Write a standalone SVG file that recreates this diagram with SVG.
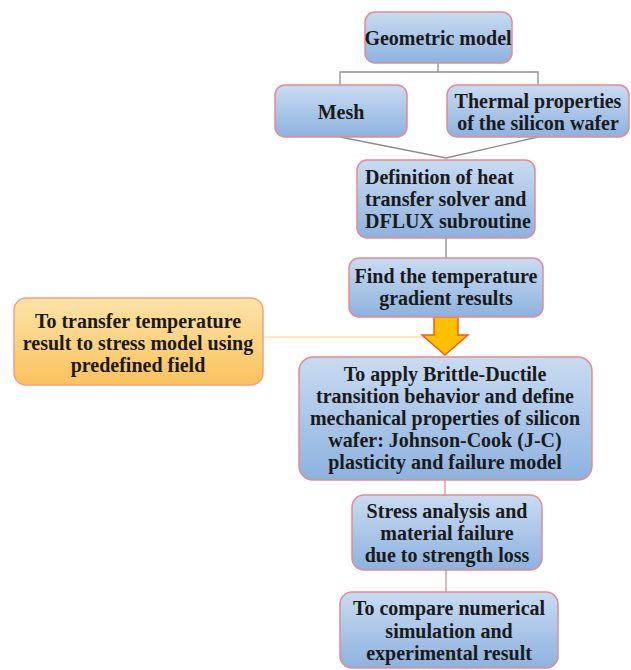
<svg xmlns="http://www.w3.org/2000/svg" width="631" height="670" viewBox="0 0 631 670">
<defs>
<linearGradient id="blue" x1="0" y1="0" x2="0" y2="1">
<stop offset="0" stop-color="#c9dbf1"/>
<stop offset="1" stop-color="#8db2df"/>
</linearGradient>
<linearGradient id="orange" x1="0" y1="0" x2="0" y2="1">
<stop offset="0" stop-color="#fde3a8"/>
<stop offset="1" stop-color="#f9c25e"/>
</linearGradient>
<style>
.b{fill:url(#blue);stroke:#e58a90;stroke-width:1.5}
.o{fill:url(#orange);stroke:#f2a08a;stroke-width:1.5}
.t{font-family:"Liberation Serif","DejaVu Serif",serif;font-size:20px;font-weight:bold;fill:#1a1a1a;text-anchor:middle}
.s{text-anchor:start}
.l{fill:none;stroke:#8c8c8c;stroke-width:1.3}
.p{fill:none;stroke:#e58a90;stroke-width:1.3}
</style>
</defs>
<rect width="631" height="670" fill="#ffffff"/>
<g id="connectors">
<polyline class="l" points="438,63 438,72"/>
<polyline class="l" points="340,85 340,72 538,72 538,85"/>
<polyline class="l" points="340,137 446,158 538,137"/>
<line class="l" x1="446" y1="238" x2="446" y2="258"/>
<line x1="263" y1="337" x2="430" y2="337" stroke="#fde2a0" stroke-width="1.5"/>
<polygon points="434,317 458,317 458,335 468,335 445,355 422,335 434,335" fill="#ffc000" stroke="#f05a28" stroke-width="1.5"/>
<line class="p" x1="445" y1="480" x2="445" y2="495"/>
<line class="p" x1="446" y1="570" x2="446" y2="592"/>
</g>
<g id="geometric">
<rect class="b" x="365" y="12" width="147" height="51" rx="10"/>
<text class="t" x="438" y="45">Geometric model</text>
</g>
<g id="mesh">
<rect class="b" x="275" y="85" width="132" height="52" rx="10"/>
<text class="t" x="341" y="119">Mesh</text>
</g>
<g id="thermal">
<rect class="b" x="447" y="85" width="182" height="52" rx="10"/>
<text class="t" x="538" y="108">Thermal properties</text>
<text class="t" x="538" y="130">of the silicon wafer</text>
</g>
<g id="definition">
<rect class="b" x="357" y="160" width="178" height="78" rx="10"/>
<text class="t s" x="365" y="184">Definition of heat</text>
<text class="t s" x="365" y="206">transfer solver and</text>
<text class="t s" x="365" y="228">DFLUX subroutine</text>
</g>
<g id="find">
<rect class="b" x="349" y="258" width="194" height="59" rx="10"/>
<text class="t" x="446" y="283">Find the temperature</text>
<text class="t" x="446" y="305">gradient results</text>
</g>
<g id="transfer">
<rect class="o" x="14" y="298" width="249" height="87" rx="12"/>
<text class="t" x="138" y="328">To transfer temperature</text>
<text class="t" x="138" y="350">result to stress model using</text>
<text class="t" x="138" y="372">predefined field</text>
</g>
<g id="brittle">
<rect class="b" x="299" y="357" width="293" height="123" rx="14"/>
<text class="t" x="445" y="381">To apply Brittle-Ductile</text>
<text class="t" x="445" y="403">transition behavior and define</text>
<text class="t" x="445" y="425">mechanical properties of silicon</text>
<text class="t" x="445" y="447">wafer: Johnson-Cook (J-C)</text>
<text class="t" x="445" y="469">plasticity and failure model</text>
</g>
<g id="stress">
<rect class="b" x="352" y="495" width="190" height="75" rx="12"/>
<text class="t" x="447" y="518">Stress analysis and</text>
<text class="t" x="447" y="540">material failure</text>
<text class="t" x="447" y="562">due to strength loss</text>
</g>
<g id="compare">
<rect class="b" x="340" y="592" width="218" height="76" rx="12"/>
<text class="t" x="449" y="615">To compare numerical</text>
<text class="t" x="449" y="638">simulation and</text>
<text class="t" x="449" y="660">experimental result</text>
</g>
</svg>
